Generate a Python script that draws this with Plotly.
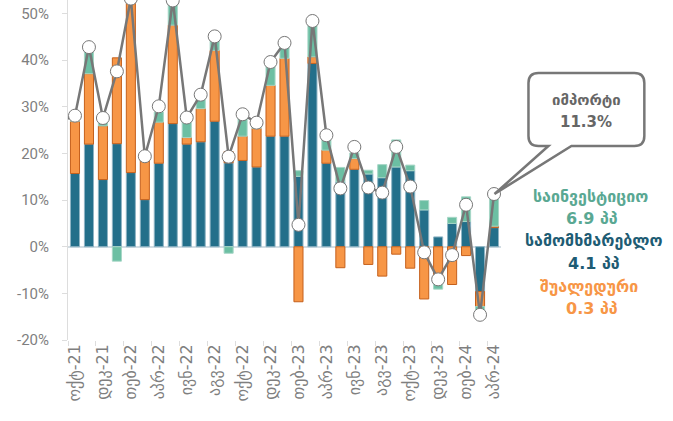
import plotly.graph_objects as go

months = ["სექ-21", "ოქტ-21", "ნოე-21", "დეკ-21", "იან-22", "თებ-22", "მარ-22", "აპრ-22", "მაი-22",
          "ივნ-22", "ივლ-22", "აგვ-22", "სექ-22", "ოქტ-22", "ნოე-22", "დეკ-22", "იან-23", "თებ-23",
          "მარ-23", "აპრ-23", "მაი-23", "ივნ-23", "ივლ-23", "აგვ-23", "სექ-23", "ოქტ-23", "ნოე-23",
          "დეკ-23", "იან-24", "თებ-24", "მარ-24", "აპრ-24"]

consumer = [None, 15.7, 22.0, 14.4, 22.1, 15.9, 10.1, 17.9, 26.4, 22.0, 22.5, 26.9, 18.0, 18.5, 17.1,
            23.7, 23.7, 15.1, 39.3, 17.9, 13.9, 16.6, 15.6, 14.8, 17.1, 16.3, 7.9, 2.1, 5.0, 5.4, -9.6, 4.1]
intermediate = [None, 11.2, 15.1, 11.5, 18.4, 37.5, 8.5, 8.8, 21.1, 1.4, 7.1, 15.2, 2.4, 5.2, 8.3,
                10.9, 16.7, -11.8, 1.4, 2.8, -4.5, 2.3, -3.8, -6.3, -1.6, -4.6, -11.2, -7.0, -8.1, -1.9, -3.2, 0.3]
investment = [None, 0.3, 5.0, 0.7, -3.1, 0.5, 0.3, 2.2, 5.3, 3.4, 2.0, 2.2, -1.4, 3.8, 0.5,
              4.3, 2.5, 1.2, 6.8, 2.2, 3.1, 1.2, 0.8, 2.8, 5.8, 1.2, 2.0, -2.1, 1.3, 5.3, -1.5, 6.9]
total = [26.9, 28.1, 42.8, 27.6, 37.6, 53.2, 19.4, 30.1, 52.8, 27.7, 32.6, 45.1, 19.3, 28.4, 26.6,
         39.6, 43.7, 4.7, 48.4, 23.9, 12.5, 21.4, 12.7, 11.6, 21.4, 12.9, -1.2, -7.0, -1.8, 9.0, -14.6, 11.3]

y_ticks = [-20, -10, 0, 10, 20, 30, 40, 50]
y_tick_txt = [f"{v}%" for v in y_ticks]

x = list(range(len(months)))
tick_idx = x[1::2]
tick_txt = [months[i] for i in tick_idx]

C_CONS = "#236f8a"
C_INT = "#f79646"
C_INV = "#6cbfa3"

fig = go.Figure()
fig.add_bar(x=x, y=consumer, name="სამომხმარებლო", marker=dict(color=C_CONS, line=dict(color="#8fb4c4", width=1)), width=0.65)
fig.add_bar(x=x, y=intermediate, name="შუალედური", marker=dict(color=C_INT, line=dict(color="#c5601c", width=1)), width=0.65)
fig.add_bar(x=x, y=investment, name="საინვესტიციო", marker=dict(color=C_INV, line=dict(color="#a6d6c6", width=1)), width=0.65)
fig.add_scatter(x=x, y=total, mode="lines+markers", name="იმპორტი",
                line=dict(color="#777777", width=2.5),
                marker=dict(color="white", size=13, line=dict(color="#777777", width=1)))

# plot area in pixels
L, R, T, B = 68, 501.5, 0, 340
W, H = 673, 421


def px(xp):
    return (xp - L) / (R - L)


def py(yp):
    return (B - yp) / (B - T)


# callout bubble path (pixel coords -> paper)
x0, x1, y0, y1, r = 529, 645, 73, 146, 10
tip = (495, 194)
pts = [
    ("M", x0 + r, y0), ("L", x1 - r, y0), ("Q", x1, y0, x1, y0 + r), ("L", x1, y1 - r),
    ("Q", x1, y1, x1 - r, y1), ("L", 572, y1), ("L", tip[0], tip[1]), ("L", 549, y1),
    ("L", x0 + r, y1), ("Q", x0, y1, x0, y1 - r), ("L", x0, y0 + r), ("Q", x0, y0, x0 + r, y0),
]
path = ""
for p in pts:
    cmd = p[0]
    coords = p[1:]
    s = []
    for i in range(0, len(coords), 2):
        s.append(f"{px(coords[i]):.5f},{py(coords[i+1]):.5f}")
    path += cmd + " ".join(s) + " "
path += "Z"

fig.add_shape(type="path", path=path, xref="paper", yref="paper",
              line=dict(color="#777777", width=2.5), fillcolor="rgba(255,255,255,0)", layer="above")

def txt(t, xp, yp, color, size=16):
    fig.add_annotation(text=f"<b>{t}</b>", x=px(xp), y=py(yp), xref="paper", yref="paper",
                       showarrow=False, font=dict(color=color, size=size, family="DejaVu Sans, Roboto"),
                       xanchor="center", yanchor="middle")

txt("იმპორტი", 587, 100, "#666666", 15)
txt("11.3%", 587, 122, "#666666", 15)
txt("საინვესტიციო", 591, 197, "#5aa893")
txt("6.9 პპ", 593, 219, "#5aa893")
txt("სამომხმარებლო", 595, 241, "#1e5c74")
txt("4.1 პპ", 595, 263, "#1e5c74")
txt("შუალედური", 590, 286, "#f79646")
txt("0.3 პპ", 593, 308, "#f79646")

fig.update_layout(
    width=W, height=H, barmode="relative", showlegend=False,
    plot_bgcolor="white", paper_bgcolor="white",
    margin=dict(l=L, r=W - R, t=T, b=H - B, autoexpand=False),
    font=dict(family="Roboto, DejaVu Sans", color="#7f7f7f"),
)
fig.update_xaxes(range=[0.5, 31.5], tickmode="array", tickvals=tick_idx, ticktext=tick_txt,
                 tickangle=-90, ticks="", showgrid=False, zeroline=False, showline=False,
                 automargin=False,
                 tickfont=dict(size=16, color="#7f7f7f", family="DejaVu Sans, Roboto"),
                 minor=dict(ticks="outside", tick0=0.5, dtick=2, ticklen=5, tickcolor="#dddddd", showgrid=False))
fig.update_yaxes(range=[-20, 52.9], tickmode="array", tickvals=y_ticks, ticktext=y_tick_txt,
                 showgrid=False, zeroline=True, zerolinecolor="#d3dde3", zerolinewidth=1.5,
                 showline=True, linecolor="#dddddd", linewidth=1, ticks="outside", ticklen=5,
                 tickcolor="#dddddd", ticklabelstandoff=10, automargin=False,
                 tickfont=dict(size=15, color="#7f7f7f", family="Roboto"))

fig.write_html("out.html", config={"displayModeBar": False},
               post_script="document.body.style.margin='0';document.body.style.overflow='hidden';")
